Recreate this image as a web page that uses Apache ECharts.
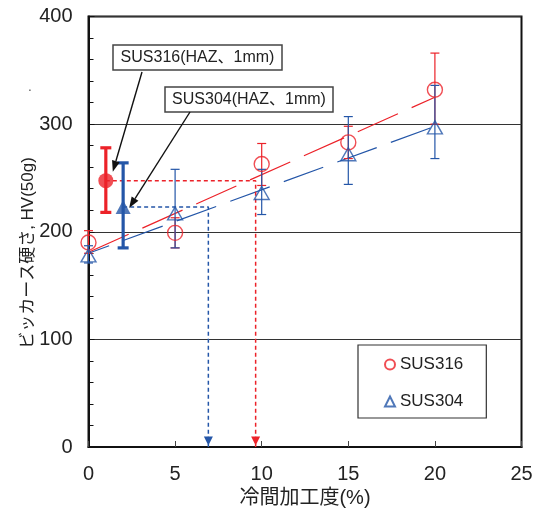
<!DOCTYPE html>
<html><head><meta charset="utf-8">
<script src="https://cdn.jsdelivr.net/npm/echarts@6/dist/echarts.min.js"></script>
<style>html,body{margin:0;padding:0;background:#fff}#c{width:543px;height:515px}</style>
</head><body><div id="c"></div>
<script>
// ---- data ----
const coldWork = [0, 5, 10, 15, 20];
const sus316 = [190, 199, 263, 283, 332];
const sus316Low = [180, 185, 243, 268, 300];
const sus316High = [201, 213, 282, 298, 366];
const sus304 = [178, 217, 236, 272, 297];
const sus304Low = [171, 185, 216, 244, 268];
const sus304High = [187, 258, 258, 307, 336];
// HAZ (1mm) measurements
const haz316 = [1, 247.5, 218, 278];   // x, value, low, high
const haz304 = [2, 223, 185, 264];
// trend lines (end points)
const trend316 = [[0, 181], [20, 325]];
const trend304 = [[0, 180], [20, 298]];
// equivalent cold work projections
const proj316 = [[1, 247.5], [9.65, 247.5], [9.65, 0]];
const proj304 = [[2, 223], [6.92, 223], [6.92, 0]];
const labels = ['SUS316', 'SUS304'];

const RED = '#ec2229', BLUE = '#2456a8';
const FONT = "'Liberation Sans', 'Noto Sans CJK JP', sans-serif";

function errRender(capW, lw, color) {
  return function (params, api) {
    const x = api.value(0), lo = api.value(1), hi = api.value(2);
    const p1 = api.coord([x, lo]), p2 = api.coord([x, hi]);
    const st = {stroke: color, lineWidth: lw};
    return {type: 'group', children: [
      {type: 'line', shape: {x1: p1[0], y1: p1[1], x2: p2[0], y2: p2[1]}, style: st},
      {type: 'line', shape: {x1: p1[0] - capW / 2, y1: p1[1], x2: p1[0] + capW / 2, y2: p1[1]}, style: st},
      {type: 'line', shape: {x1: p2[0] - capW / 2, y1: p2[1], x2: p2[0] + capW / 2, y2: p2[1]}, style: st}
    ]};
  };
}
function projData(arr) {
  return arr.map((p, i) => i === arr.length - 1
    ? {value: p, symbol: 'triangle', symbolRotate: 180, symbolSize: [9, 9], symbolOffset: [0, -6]}
    : {value: p, symbol: 'none'});
}
function arrow(x1, y1, x2, y2) {
  const a = Math.atan2(y2 - y1, x2 - x1), L = 11, W = 4;
  const bx = x2 - L * Math.cos(a), by = y2 - L * Math.sin(a);
  const nx = -Math.sin(a) * W, ny = Math.cos(a) * W;
  return [
    {type: 'line', shape: {x1, y1, x2: bx, y2: by}, style: {stroke: '#111', lineWidth: 1.4}, z: 50},
    {type: 'polygon', shape: {points: [[x2, y2], [bx + nx, by + ny], [bx - nx, by - ny]]}, style: {fill: '#111'}, z: 50}
  ];
}

const chart = echarts.init(document.getElementById('c'));
chart.setOption({
  animation: false,
  backgroundColor: '#fff',
  textStyle: {fontFamily: FONT},
  grid: {left: 88.5, right: 21.5, top: 16.5, bottom: 68, show: true, borderColor: '#111', borderWidth: 2},
  xAxis: {
    type: 'value', min: 0, max: 25, interval: 5,
    name: '冷間加工度(%)', nameLocation: 'middle', nameGap: 37,
    nameTextStyle: {fontSize: 20, color: '#222', fontFamily: FONT},
    axisLine: {lineStyle: {color: '#111', width: 2}},
    axisTick: {inside: true, length: 6, lineStyle: {color: '#444'}},
    axisLabel: {fontSize: 20, color: '#222', margin: 17, fontFamily: FONT},
    splitLine: {show: false}
  },
  yAxis: {
    type: 'value', min: 0, max: 400, interval: 100,
    axisLine: {show: true, lineStyle: {color: '#111', width: 2}},
    axisTick: {show: true, inside: true, length: 6, lineStyle: {color: '#111'}},
    minorTick: {show: true, splitNumber: 5, length: 5, lineStyle: {color: '#111'}},
    axisLabel: {fontSize: 20, color: '#222', margin: 16, fontFamily: FONT},
    splitLine: {show: true, lineStyle: {color: '#333', width: 1}}
  },
  legend: {
    data: labels, orient: 'vertical', left: 358, top: 345,
    padding: [11, 23, 8, 26], itemGap: 20, itemWidth: 10, itemHeight: 10,
    borderColor: '#333', borderWidth: 1.2, backgroundColor: '#fff',
    textStyle: {fontSize: 17, color: '#222', fontFamily: FONT}
  },
  series: [
    {type: 'line', data: trend316, symbol: 'none', silent: true, z: 2,
     lineStyle: {color: RED, width: 1.2, type: [44, 15]}},
    {type: 'line', data: trend304, symbol: 'none', silent: true, z: 2,
     lineStyle: {color: BLUE, width: 1.2, type: [42, 15], dashOffset: 20}},
    {type: 'line', data: projData(proj316), showSymbol: true, symbol: 'none', silent: true, z: 2,
     itemStyle: {color: RED}, lineStyle: {color: RED, width: 1.5, type: [4, 3]}},
    {type: 'line', data: projData(proj304), showSymbol: true, symbol: 'none', silent: true, z: 2,
     itemStyle: {color: BLUE}, lineStyle: {color: BLUE, width: 1.5, type: [4, 3]}},
    {type: 'custom', renderItem: errRender(9, 1.2, RED), z: 3,
     data: coldWork.map((x, i) => [x, sus316Low[i], sus316High[i]])},
    {type: 'custom', renderItem: errRender(9, 1.2, BLUE), z: 3,
     data: coldWork.map((x, i) => [x, sus304Low[i], sus304High[i]])},
    {type: 'custom', renderItem: errRender(11, 3.2, RED), z: 3,
     data: [[haz316[0], haz316[2], haz316[3]]]},
    {type: 'custom', renderItem: errRender(11, 3.2, BLUE), z: 3,
     data: [[haz304[0], haz304[2], haz304[3]]]},
    {type: 'scatter', name: labels[0], symbol: 'circle', symbolSize: 15, z: 4,
     itemStyle: {color: 'rgba(255,255,255,0)', borderColor: RED, borderWidth: 1.4},
     data: coldWork.map((x, i) => [x, sus316[i]])},
    {type: 'scatter', name: labels[1], symbol: 'triangle', symbolSize: [15, 13], z: 4,
     itemStyle: {color: 'rgba(255,255,255,0)', borderColor: BLUE, borderWidth: 1.4},
     data: coldWork.map((x, i) => [x, sus304[i]])},
    {type: 'scatter', symbol: 'circle', symbolSize: 15, z: 4,
     itemStyle: {color: RED}, data: [[haz316[0], haz316[1]]]},
    {type: 'scatter', symbol: 'triangle', symbolSize: [15, 14], z: 4,
     itemStyle: {color: BLUE}, data: [[haz304[0], haz304[1]]]}
  ]
});

const t1 = chart.convertToPixel({gridIndex: 0}, [haz316[0], haz316[1]]);
const t2 = chart.convertToPixel({gridIndex: 0}, [haz304[0], haz304[1]]);
chart.setOption({
  graphic: [
    {type: 'text', x: 28, y: 253, rotation: Math.PI / 2,
     style: {text: 'ビッカース硬さ, HV(50g)', font: '17px ' + FONT, fill: '#222', align: 'center', verticalAlign: 'middle'}},
    {type: 'text', x: 30, y: 88, style: {text: '.', font: '12px ' + FONT, fill: '#444', align: 'center', verticalAlign: 'middle'}},
    {type: 'rect', shape: {x: 113, y: 45, width: 169, height: 25}, style: {fill: '#fff', stroke: '#444', lineWidth: 1.5}, z: 40},
    {type: 'text', x: 197.5, y: 58, z: 41, style: {text: 'SUS316(HAZ、1mm)', font: '16px ' + FONT, fill: '#222', align: 'center', verticalAlign: 'middle'}},
    {type: 'rect', shape: {x: 165, y: 87, width: 168, height: 25}, style: {fill: '#fff', stroke: '#444', lineWidth: 1.5}, z: 40},
    {type: 'text', x: 249, y: 100, z: 41, style: {text: 'SUS304(HAZ、1mm)', font: '16px ' + FONT, fill: '#222', align: 'center', verticalAlign: 'middle'}},
    ...arrow(142, 72, t1[0] + 7, t1[1] - 9),
    ...arrow(190, 112, t2[0] + 6, t2[1] + 1)
  ]
});
</script></body></html>
